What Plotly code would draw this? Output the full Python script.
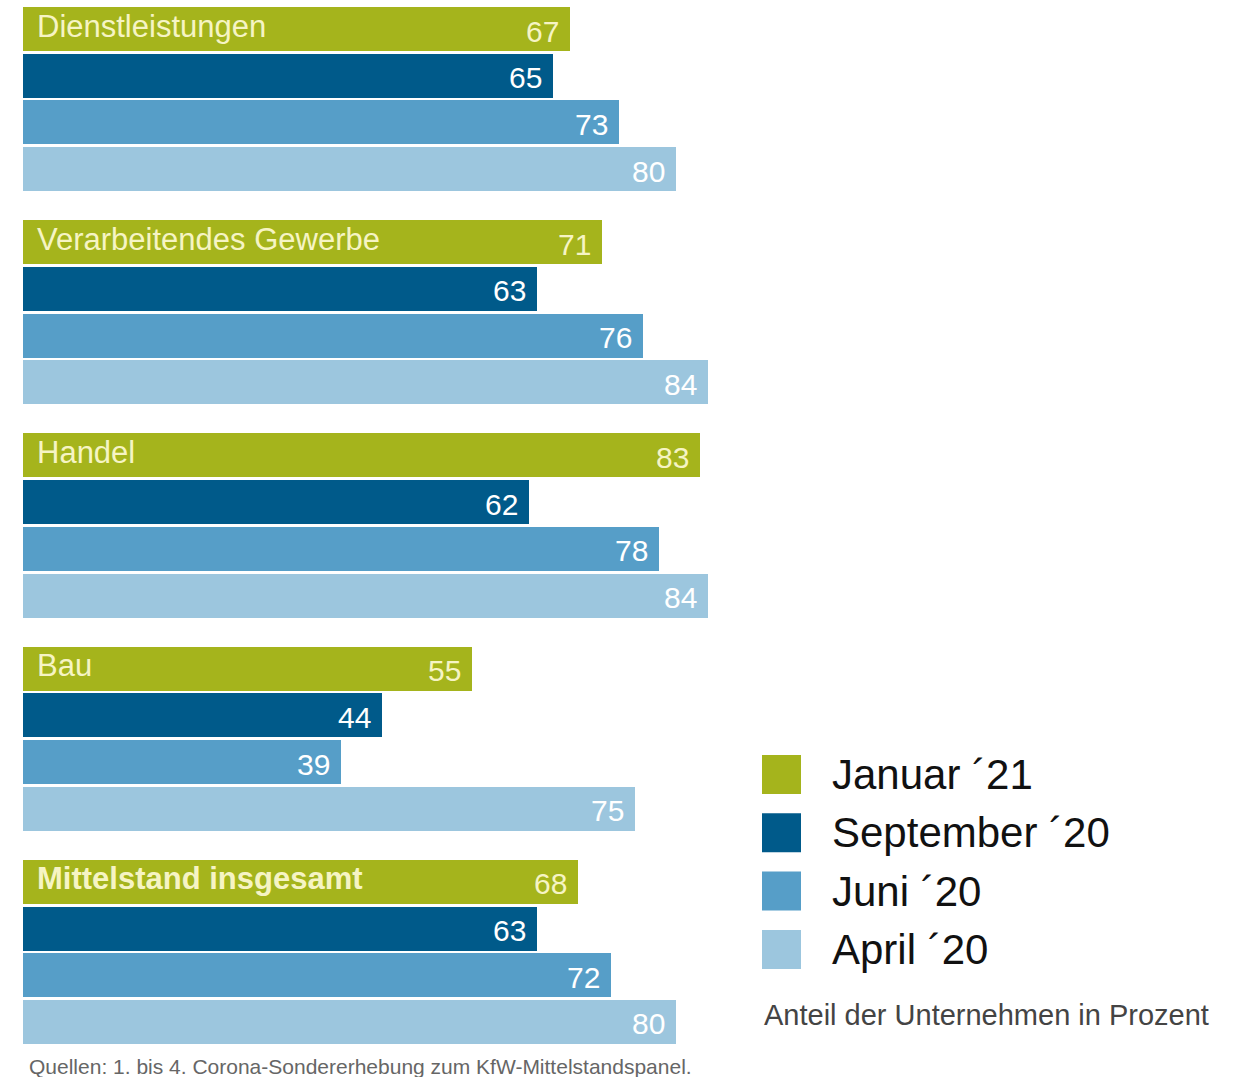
import plotly.graph_objects as go

# Share of companies (percent) by sector and survey wave
sectors = ["Dienstleistungen", "Verarbeitendes Gewerbe", "Handel", "Bau", "Mittelstand insgesamt"]
waves = ["Januar ´21", "September ´20", "Juni ´20", "April ´20"]
jan21 = [67, 71, 83, 55, 68]
sep20 = [65, 63, 62, 44, 63]
jun20 = [73, 76, 78, 39, 72]
apr20 = [80, 84, 84, 75, 80]
series_values = [jan21, sep20, jun20, apr20]

colors = ["#a5b41c", "#005a8a", "#569ec8", "#9cc6de"]
label_colors = ["#f6f4c4", "#ffffff", "#ffffff", "#ffffff"]

W, H = 1235, 1077
FONT = "Liberation Sans, Arial, sans-serif"

# vertical layout (pixel-like units on a reversed y axis)
first_center = 29.0
group_pitch = 213.2
bar_pitch = 46.7
bar_height = 44.0


def bar_y(g, k):
    return first_center + g * group_pitch + k * bar_pitch


fig = go.Figure()

for k, (wave, vals) in enumerate(zip(waves, series_values)):
    ys = [bar_y(g, k) for g in range(len(sectors))]
    fig.add_trace(go.Bar(
        x=vals, y=ys, orientation="h", width=bar_height,
        marker=dict(color=colors[k], line=dict(width=0)),
        name=wave, showlegend=False, hoverinfo="x",
    ))
    for g, v in enumerate(vals):
        fig.add_annotation(
            x=v, y=ys[g], xref="x", yref="y", text=str(v),
            xanchor="right", yanchor="middle", xshift=-9, yshift=-2,
            showarrow=False, font=dict(family=FONT, size=30, color=label_colors[k]),
        )

# sector names inside the first bar of each group
for g, name in enumerate(sectors):
    txt = f"<b>{name}</b>" if name == "Mittelstand insgesamt" else name
    fig.add_annotation(
        x=0, y=bar_y(g, 0), xref="x", yref="y", text=txt,
        xanchor="left", yanchor="middle", xshift=12, yshift=3,
        showarrow=False, font=dict(family=FONT, size=31, color="#f6f4c4"),
    )

# legend drawn as swatches + labels
leg_x0, leg_sq = 762, 39
leg_top = 755
leg_pitch = 58.3
for k, wave in enumerate(waves):
    top = leg_top + k * leg_pitch
    fig.add_shape(
        type="rect", xref="paper", yref="paper",
        x0=leg_x0 / W, x1=(leg_x0 + leg_sq) / W,
        y0=1 - (top + leg_sq) / H, y1=1 - top / H,
        fillcolor=colors[k], line=dict(width=0),
    )
    fig.add_annotation(
        x=830 / W, y=1 - (top + leg_sq / 2) / H, xref="paper", yref="paper",
        text=wave, xanchor="left", yanchor="middle", showarrow=False,
        font=dict(family=FONT, size=42, color="#111111"),
    )

fig.add_annotation(
    x=leg_x0 / W, y=1 - 1015 / H, xref="paper", yref="paper",
    text="Anteil der Unternehmen in Prozent", xanchor="left", yanchor="middle",
    showarrow=False, font=dict(family=FONT, size=29, color="#444444"),
)

fig.add_annotation(
    x=27 / W, y=1 - 1066 / H, xref="paper", yref="paper",
    text="Quellen: 1. bis 4. Corona-Sondererhebung zum KfW-Mittelstandspanel.",
    xanchor="left", yanchor="middle", showarrow=False,
    font=dict(family=FONT, size=21, color="#666666"),
)

fig.update_layout(
    width=W, height=H,
    margin=dict(l=0, r=0, t=0, b=0),
    paper_bgcolor="white", plot_bgcolor="white",
    barmode="overlay", bargap=0,
    xaxis=dict(range=[0, 1212 / 8.16], domain=[23 / W, 1], visible=False, fixedrange=True),
    yaxis=dict(range=[H, 0], domain=[0, 1], visible=False, fixedrange=True),
    showlegend=False,
)

fig.write_html("out.html")
